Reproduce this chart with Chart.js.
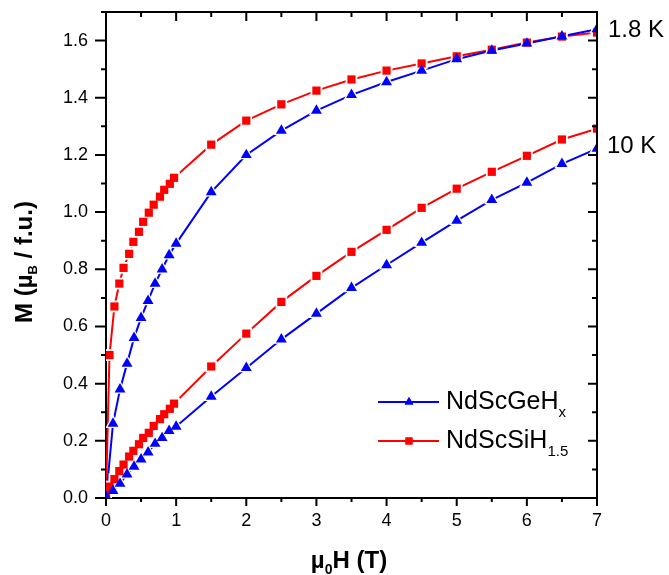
<!DOCTYPE html>
<html>
<head>
<meta charset="utf-8">
<script src="https://cdn.jsdelivr.net/npm/chart.js@4.4.1/dist/chart.umd.min.js"></script>
<style>
html,body{margin:0;padding:0;background:#fff;}
#wrap{width:669px;height:575px;}
</style>
</head>
<body>
<div id="wrap"><canvas id="c" width="669" height="575"></canvas></div>
<script>
// ---- data ----
const geField = [0, 0.1, 0.2, 0.3, 0.4, 0.5, 0.6, 0.7, 0.8, 0.9, 1.0, 1.5, 2, 2.5, 3, 3.5, 4, 4.5, 5, 5.5, 6, 6.5, 7];
const geM_1p8K = [0, 0.26, 0.38, 0.47, 0.56, 0.63, 0.69, 0.75, 0.80, 0.85, 0.89, 1.07, 1.20, 1.285, 1.355, 1.41, 1.455, 1.495, 1.535, 1.565, 1.59, 1.615, 1.64];
const geM_10K = [0.005, 0.025, 0.05, 0.083, 0.11, 0.135, 0.16, 0.19, 0.21, 0.235, 0.25, 0.355, 0.455, 0.555, 0.645, 0.735, 0.815, 0.893, 0.97, 1.043, 1.103, 1.169, 1.222];
const siField = [0, 0.05, 0.12, 0.19, 0.25, 0.33, 0.39, 0.47, 0.53, 0.61, 0.68, 0.77, 0.83, 0.91, 0.97, 1.5, 2, 2.5, 3, 3.5, 4, 4.5, 5, 5.5, 6, 6.5, 7];
const siM_1p8K = [0.01, 0.50, 0.67, 0.75, 0.805, 0.854, 0.896, 0.931, 0.966, 0.998, 1.026, 1.054, 1.078, 1.099, 1.12, 1.236, 1.32, 1.377, 1.425, 1.464, 1.495, 1.52, 1.545, 1.568, 1.593, 1.614, 1.628];
const siM_10K = [0.014, 0.04, 0.066, 0.094, 0.117, 0.145, 0.165, 0.188, 0.21, 0.228, 0.252, 0.276, 0.293, 0.312, 0.33, 0.46, 0.575, 0.686, 0.777, 0.861, 0.938, 1.015, 1.082, 1.141, 1.197, 1.254, 1.292];
const seriesNames = ['NdScGeH', 'NdScSiH'];
const seriesSubs = ['x', '1.5'];
const tempLabels = ['1.8 K', '10 K'];
const xTicks = [0, 1, 2, 3, 4, 5, 6, 7];
const yTicks = [0, 0.2, 0.4, 0.6, 0.8, 1.0, 1.2, 1.4, 1.6];

const BLUE = '#0000ff', RED = '#ff0000';
const FONT = '"Liberation Sans", Arial, sans-serif';

function pts(xs, ys){ return xs.map((x,i)=>({x:x, y:ys[i]})); }

function layers(xs, ys, color, style, r){
  const d = pts(xs, ys);
  return [
    {data:d, showLine:true, borderColor:color, borderWidth:2, pointRadius:0, pointHoverRadius:0, order:3},
    {data:d, showLine:false, pointStyle:style, pointRadius:r+2.5, pointHoverRadius:r+2.5, pointBackgroundColor:'#fff', pointBorderWidth:0, order:2},
    {data:d, showLine:false, pointStyle:style, pointRadius:r, pointHoverRadius:r, pointBackgroundColor:color, pointBorderColor:color, pointBorderWidth:0, order:1}
  ];
}

const datasets = [].concat(
  layers(geField, geM_1p8K, BLUE, 'triangle', 6.3),
  layers(geField, geM_10K, BLUE, 'triangle', 6.3),
  layers(siField, siM_1p8K, RED, 'rect', 5.8),
  layers(siField, siM_10K, RED, 'rect', 5.8)
);

function drawRich(ctx, parts, x, y, align){
  let w = 0;
  parts.forEach(p=>{ ctx.font = (p.bold?'bold ':'') + p.size + 'px ' + FONT; p.w = ctx.measureText(p.t).width; w += p.w; });
  let cx = align==='center' ? x - w/2 : x;
  parts.forEach(p=>{
    ctx.font = (p.bold?'bold ':'') + p.size + 'px ' + FONT;
    ctx.fillText(p.t, cx, y + (p.dy||0));
    cx += p.w;
  });
}

const decor = {
  id:'decor',
  afterDraw(chart){
    const ctx = chart.ctx, a = chart.chartArea;
    const xs = chart.scales.x, ys = chart.scales.y;
    ctx.save();
    ctx.strokeStyle = '#000'; ctx.lineWidth = 2; ctx.lineCap = 'butt';
    // frame top/right
    ctx.beginPath();
    ctx.moveTo(a.left-1, a.top); ctx.lineTo(a.right, a.top); ctx.lineTo(a.right, a.bottom+1);
    ctx.stroke();
    // ticks (major + minor)
    ctx.beginPath();
    for (let i=0;i<=14;i++){
      const v = i*0.5, px = xs.getPixelForValue(v), major = (i%2===0);
      ctx.moveTo(px, a.bottom); ctx.lineTo(px, a.bottom+(major?8:4));
      ctx.moveTo(px, a.top); ctx.lineTo(px, a.top+(major?9:5));
    }
    for (let i=0;i<=17;i++){
      const v = i*0.1, py = ys.getPixelForValue(v), major = (i%2===0);
      ctx.moveTo(a.left, py); ctx.lineTo(a.left-(major?11:5), py);
      ctx.moveTo(a.right, py); ctx.lineTo(a.right-(major?9:5), py);
    }
    ctx.stroke();

    ctx.fillStyle = '#000';
    ctx.textBaseline = 'alphabetic';
    ctx.textAlign = 'left';
    // temperature labels
    ctx.font = '24px ' + FONT;
    ctx.fillText(tempLabels[0], 608, 37);
    ctx.fillText(tempLabels[1], 607, 153);

    // x title
    drawRich(ctx, [{t:'\u00b5',size:24,bold:true},{t:'0',size:14,bold:true,dy:6},{t:'H (T)',size:24,bold:true}], 349, 568, 'center');
    // y title
    ctx.save();
    ctx.translate(32, 262);
    ctx.rotate(-Math.PI/2);
    drawRich(ctx, [{t:'M (\u00b5',size:24,bold:true},{t:'B',size:13,bold:true,dy:5},{t:' / f.u.)',size:24,bold:true}], 0, 0, 'center');
    ctx.restore();

    // legend
    const leg = [{c:BLUE, s:'triangle', y:402, base:409},{c:RED, s:'rect', y:441, base:448}];
    leg.forEach((L,i)=>{
      ctx.strokeStyle = L.c; ctx.lineWidth = 2;
      ctx.beginPath(); ctx.moveTo(378, L.y); ctx.lineTo(439, L.y); ctx.stroke();
      ctx.fillStyle = L.c;
      Chart.helpers.drawPoint(ctx, {pointStyle:L.s, radius:5, borderWidth:0, rotation:0}, 409, L.y);
      ctx.fill();
      ctx.fillStyle = '#000';
      drawRich(ctx, [{t:seriesNames[i],size:25},{t:seriesSubs[i],size:15,dy:8}], 446, L.base, 'left');
    });
    ctx.restore();
  }
};

new Chart(document.getElementById('c'), {
  type:'scatter',
  data:{datasets:datasets},
  options:{
    responsive:false,
    animation:false,
    events:[],
    layout:{padding:{top:12, right:72, left:0, bottom:0}},
    plugins:{legend:{display:false}, tooltip:{enabled:false}},
    scales:{
      x:{
        type:'linear', min:0, max:7,
        afterFit(s){ s.height = 77; s.paddingLeft = 0; s.paddingRight = 0; },
        afterBuildTicks(s){ s.ticks = xTicks.map(v=>({value:v})); },
        grid:{display:false, drawTicks:false},
        border:{display:true, color:'#000', width:2},
        ticks:{color:'#000', font:{family:FONT, size:18}, padding:12, callback:v=>String(v), maxRotation:0}
      },
      y:{
        type:'linear', min:0, max:1.7,
        afterFit(s){ s.width = 106; s.paddingTop = 0; s.paddingBottom = 0; },
        afterBuildTicks(s){ s.ticks = yTicks.map(v=>({value:v})); },
        grid:{display:false, drawTicks:false},
        border:{display:true, color:'#000', width:2},
        ticks:{color:'#000', font:{family:FONT, size:18}, padding:18, callback:v=>v.toFixed(1)}
      }
    }
  },
  plugins:[decor]
});
</script>
</body>
</html>
